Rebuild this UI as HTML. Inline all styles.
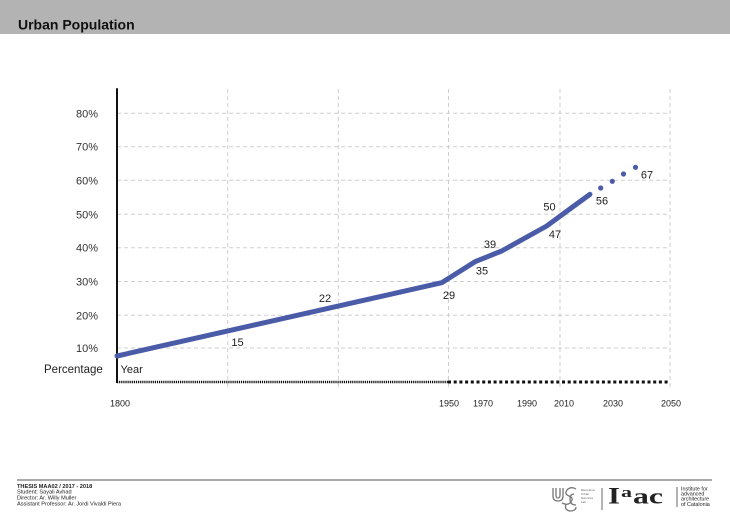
<!DOCTYPE html>
<html><head><meta charset="utf-8"><style>
html,body{margin:0;padding:0;background:#fff;}
body{width:730px;height:516px;overflow:hidden;position:relative;font-family:"Liberation Sans",sans-serif;}
svg{position:absolute;left:0;top:0;}
</style></head><body>
<svg width="730" height="516" viewBox="0 0 730 516" xmlns="http://www.w3.org/2000/svg" font-family="Liberation Sans, sans-serif">
<rect x="0" y="0" width="730" height="34" fill="#b3b3b3"/>
<text x="18" y="29.5" font-size="14" font-weight="bold" fill="#111">Urban Population</text>

<g stroke="#cfcfcf" stroke-width="1" stroke-dasharray="4,3" fill="none">
<line x1="117" y1="113.3" x2="670" y2="113.3"/>
<line x1="117" y1="146.7" x2="670" y2="146.7"/>
<line x1="117" y1="180.3" x2="670" y2="180.3"/>
<line x1="117" y1="214.3" x2="670" y2="214.3"/>
<line x1="117" y1="247.7" x2="670" y2="247.7"/>
<line x1="117" y1="281.5" x2="670" y2="281.5"/>
<line x1="117" y1="315.3" x2="670" y2="315.3"/>
<line x1="117" y1="348" x2="670" y2="348"/>
<line x1="227.7" y1="89" x2="227.7" y2="390"/>
<line x1="338.3" y1="89" x2="338.3" y2="390"/>
<line x1="448.5" y1="89" x2="448.5" y2="390"/>
<line x1="560" y1="89" x2="560" y2="390"/>
<line x1="670" y1="89" x2="670" y2="390"/>
</g>

<line x1="117" y1="88.3" x2="117" y2="383" stroke="#111" stroke-width="2"/>
<line x1="117" y1="382" x2="448" y2="382" stroke="#111" stroke-width="2.4" stroke-dasharray="1.2,0.9"/>
<line x1="448" y1="382" x2="670" y2="382" stroke="#111" stroke-width="3" stroke-dasharray="3,2.7"/>

<g font-size="11" fill="#333" text-anchor="end">
<text x="98" y="117.3">80%</text>
<text x="98" y="150.7">70%</text>
<text x="98" y="184.3">60%</text>
<text x="98" y="218.3">50%</text>
<text x="98" y="251.7">40%</text>
<text x="98" y="285.5">30%</text>
<text x="98" y="319.3">20%</text>
<text x="98" y="352">10%</text>
</g>
<text x="44" y="373.2" font-size="11.5" fill="#222">Percentage</text>
<text x="120.5" y="373.2" font-size="11" fill="#222">Year</text>

<g font-size="9" fill="#222" text-anchor="middle">
<text x="120" y="406.5">1800</text>
<text x="449" y="406.5">1950</text>
<text x="483" y="406.5">1970</text>
<text x="527" y="406.5">1990</text>
<text x="564" y="406.5">2010</text>
<text x="613" y="406.5">2030</text>
<text x="671" y="406.5">2050</text>
</g>

<polyline points="117,356 441.7,282.7 475,261.7 501.7,251 546.7,226 573,206.7 590,194.3" fill="none" stroke="#4a5ca8" stroke-width="5" stroke-linejoin="round" stroke-linecap="round"/>
<g fill="#4a5ca8">
<circle cx="600.7" cy="188" r="2.6"/>
<circle cx="612.3" cy="181.3" r="2.6"/>
<circle cx="623.5" cy="174" r="2.6"/>
<circle cx="635.5" cy="167.3" r="2.6"/>
</g>

<g font-size="11" fill="#222" text-anchor="middle">
<text x="237.5" y="346">15</text>
<text x="325" y="302">22</text>
<text x="449" y="299">29</text>
<text x="482" y="274.5">35</text>
<text x="490" y="248">39</text>
<text x="555" y="238">47</text>
<text x="549.5" y="210.7">50</text>
<text x="602" y="204.7">56</text>
<text x="647" y="178.5">67</text>
</g>

<line x1="17" y1="480" x2="712" y2="480" stroke="#555" stroke-width="1"/>
<g font-size="5.6" fill="#222">
<text x="17" y="487.8" font-weight="bold">THESIS MAA02 / 2017 - 2018</text>
<text x="17" y="493.3">Student: Sayali Avhad</text>
<text x="17" y="499.6">Director: Ar. Willy Muller</text>
<text x="17" y="505.5">Assistant Professor: Ar. Jordi Vivaldi Piera</text>
</g>

<g fill="none" stroke="#777" stroke-width="1.3">
<path d="M553,488 v8 q0,5 5,5 q5,0 5,-5 v-8"/>
<path d="M556,488 v7 q0,3 2,3 q2,0 2,-3 v-7"/>
<path d="M576,489 q-5,-3 -9,1 q-3,4 2,6 q5,2 2,6 q-3,4 -9,1"/>
<path d="M574,494 q-4,0 -4,5 q0,6 6,6"/>
<path d="M566,504 q-2,6 4,7 q6,0 6,-4"/>
</g>
<g font-size="3" fill="#666">
<text x="581" y="491">Barcelona</text>
<text x="581" y="495">Urban</text>
<text x="581" y="499">Sciences</text>
<text x="581" y="503">Lab</text>
</g>
<line x1="602" y1="488" x2="602" y2="510" stroke="#444" stroke-width="0.8"/>
<text x="608" y="503.5" font-family="Liberation Serif, serif" font-weight="bold" font-size="23" fill="#222" textLength="12" lengthAdjust="spacingAndGlyphs">I</text>
<text x="621" y="497" font-family="Liberation Serif, serif" font-weight="bold" font-size="15" fill="#222" textLength="11" lengthAdjust="spacingAndGlyphs">a</text>
<text x="633" y="503.5" font-family="Liberation Serif, serif" font-weight="bold" font-size="22" fill="#222" textLength="30" lengthAdjust="spacingAndGlyphs">ac</text>
<line x1="677" y1="487" x2="677" y2="507" stroke="#444" stroke-width="0.8"/>
<g font-size="5.4" fill="#222">
<text x="681" y="490.5">Institute for</text>
<text x="681" y="495.5">advanced</text>
<text x="681" y="500.5">architecture</text>
<text x="681" y="506">of Catalonia</text>
</g>
</svg>
</body></html>
